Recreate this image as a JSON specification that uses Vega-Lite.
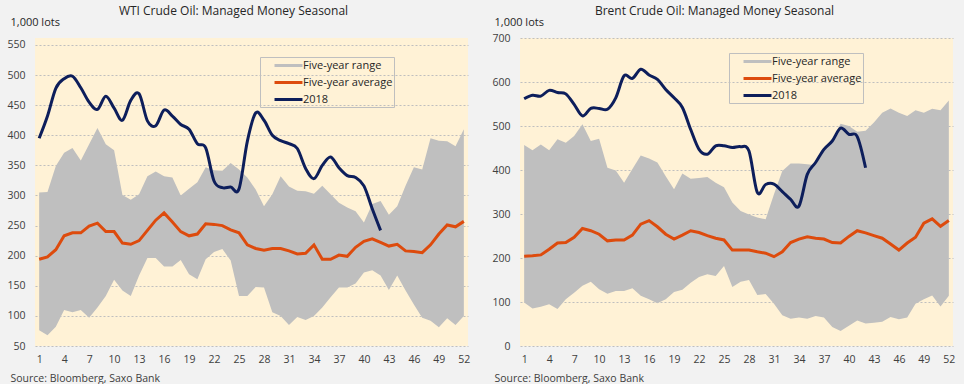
{
  "$schema": "https://vega.github.io/schema/vega-lite/v6.json",
  "background": "#F2F2F2",
  "padding": {"left": 6, "top": 5, "right": 10, "bottom": 2},
  "spacing": 21,
  "config": {
    "font": "Open Sans",
    "view": {"fill": "#FFF2D6", "stroke": null},
    "axis": {"labelColor": "#404040", "labelFontSize": 10.5, "ticks": false, "domain": false, "titleColor": "#262626", "titleFontWeight": "normal", "labelOverlap": false, "tickCount": 100, "format": "d"},
    "title": {"fontSize": 12, "fontWeight": "normal", "color": "#262626", "anchor": "middle", "frame": "group"},
    "legend": {"orient": "none", "title": null, "strokeColor": "#BFBFBF", "padding": 1, "symbolType": "M-2.33,0H2.33", "symbolSize": 144, "symbolStrokeWidth": 3, "symbolOffset": 20, "labelFontSize": 11, "labelColor": "#262626", "labelOffset": 7, "rowPadding": 3, "labelExpr": "datum.label + '     '"}
  },
  "resolve": {"scale": {"color": "independent"}, "legend": {"color": "independent"}},
  "datasets": {
    "wti": [
      {"w":1,"lo":76,"hi":305,"avg":194,"y18":395},
      {"w":2,"lo":68,"hi":306,"avg":198,"y18":432},
      {"w":3,"lo":82,"hi":349,"avg":210,"y18":478},
      {"w":4,"lo":110,"hi":371,"avg":233,"y18":494},
      {"w":5,"lo":106,"hi":379,"avg":238,"y18":498},
      {"w":6,"lo":110,"hi":358,"avg":238,"y18":479},
      {"w":7,"lo":97,"hi":385,"avg":249,"y18":455},
      {"w":8,"lo":114,"hi":412,"avg":254,"y18":443},
      {"w":9,"lo":133,"hi":385,"avg":240,"y18":465},
      {"w":10,"lo":160,"hi":375,"avg":240,"y18":445},
      {"w":11,"lo":142,"hi":301,"avg":221,"y18":425},
      {"w":12,"lo":133,"hi":293,"avg":219,"y18":458},
      {"w":13,"lo":167,"hi":302,"avg":225,"y18":469},
      {"w":14,"lo":196,"hi":332,"avg":242,"y18":424},
      {"w":15,"lo":196,"hi":340,"avg":259,"y18":416},
      {"w":16,"lo":182,"hi":332,"avg":271,"y18":442},
      {"w":17,"lo":182,"hi":330,"avg":256,"y18":432},
      {"w":18,"lo":193,"hi":300,"avg":240,"y18":418},
      {"w":19,"lo":169,"hi":311,"avg":233,"y18":410},
      {"w":20,"lo":161,"hi":322,"avg":236,"y18":386},
      {"w":21,"lo":194,"hi":347,"avg":253,"y18":379},
      {"w":22,"lo":206,"hi":342,"avg":252,"y18":324},
      {"w":23,"lo":211,"hi":341,"avg":250,"y18":313},
      {"w":24,"lo":192,"hi":354,"avg":243,"y18":314},
      {"w":25,"lo":133,"hi":343,"avg":238,"y18":311},
      {"w":26,"lo":133,"hi":330,"avg":218,"y18":390},
      {"w":27,"lo":148,"hi":310,"avg":212,"y18":437},
      {"w":28,"lo":147,"hi":282,"avg":209,"y18":425},
      {"w":29,"lo":106,"hi":302,"avg":212,"y18":400},
      {"w":30,"lo":100,"hi":332,"avg":212,"y18":391},
      {"w":31,"lo":85,"hi":315,"avg":208,"y18":386},
      {"w":32,"lo":98,"hi":308,"avg":203,"y18":378},
      {"w":33,"lo":93,"hi":307,"avg":204,"y18":345},
      {"w":34,"lo":100,"hi":303,"avg":218,"y18":328},
      {"w":35,"lo":114,"hi":316,"avg":194,"y18":350},
      {"w":36,"lo":131,"hi":302,"avg":194,"y18":364},
      {"w":37,"lo":147,"hi":288,"avg":201,"y18":346},
      {"w":38,"lo":147,"hi":280,"avg":199,"y18":333},
      {"w":39,"lo":154,"hi":274,"avg":214,"y18":330},
      {"w":40,"lo":172,"hi":255,"avg":224,"y18":316},
      {"w":41,"lo":176,"hi":286,"avg":228,"y18":278},
      {"w":42,"lo":167,"hi":291,"avg":222,"y18":242},
      {"w":43,"lo":143,"hi":268,"avg":216,"y18":null},
      {"w":44,"lo":167,"hi":282,"avg":219,"y18":null},
      {"w":45,"lo":142,"hi":316,"avg":208,"y18":null},
      {"w":46,"lo":119,"hi":347,"avg":207,"y18":null},
      {"w":47,"lo":97,"hi":343,"avg":205,"y18":null},
      {"w":48,"lo":92,"hi":395,"avg":218,"y18":null},
      {"w":49,"lo":81,"hi":391,"avg":236,"y18":null},
      {"w":50,"lo":96,"hi":390,"avg":251,"y18":null},
      {"w":51,"lo":85,"hi":382,"avg":248,"y18":null},
      {"w":52,"lo":100,"hi":410,"avg":257,"y18":null}
    ],
    "brent": [
      {"w":1,"lo":99,"hi":457,"avg":204,"y18":562},
      {"w":2,"lo":85,"hi":445,"avg":205,"y18":570},
      {"w":3,"lo":89,"hi":458,"avg":207,"y18":568},
      {"w":4,"lo":95,"hi":445,"avg":220,"y18":581},
      {"w":5,"lo":84,"hi":470,"avg":234,"y18":576},
      {"w":6,"lo":106,"hi":462,"avg":235,"y18":573},
      {"w":7,"lo":121,"hi":477,"avg":247,"y18":549},
      {"w":8,"lo":137,"hi":504,"avg":267,"y18":523},
      {"w":9,"lo":146,"hi":466,"avg":262,"y18":540},
      {"w":10,"lo":129,"hi":471,"avg":254,"y18":540},
      {"w":11,"lo":119,"hi":405,"avg":239,"y18":538},
      {"w":12,"lo":125,"hi":399,"avg":241,"y18":564},
      {"w":13,"lo":125,"hi":371,"avg":241,"y18":614},
      {"w":14,"lo":131,"hi":402,"avg":252,"y18":608},
      {"w":15,"lo":114,"hi":433,"avg":277,"y18":629},
      {"w":16,"lo":106,"hi":426,"avg":285,"y18":616},
      {"w":17,"lo":97,"hi":417,"avg":271,"y18":606},
      {"w":18,"lo":106,"hi":386,"avg":254,"y18":583},
      {"w":19,"lo":123,"hi":356,"avg":243,"y18":564},
      {"w":20,"lo":128,"hi":392,"avg":252,"y18":542},
      {"w":21,"lo":144,"hi":380,"avg":262,"y18":492},
      {"w":22,"lo":157,"hi":382,"avg":258,"y18":447},
      {"w":23,"lo":163,"hi":384,"avg":251,"y18":436},
      {"w":24,"lo":159,"hi":371,"avg":245,"y18":455},
      {"w":25,"lo":182,"hi":361,"avg":241,"y18":455},
      {"w":26,"lo":134,"hi":326,"avg":218,"y18":451},
      {"w":27,"lo":146,"hi":307,"avg":218,"y18":453},
      {"w":28,"lo":150,"hi":299,"avg":218,"y18":443},
      {"w":29,"lo":116,"hi":292,"avg":214,"y18":349},
      {"w":30,"lo":118,"hi":288,"avg":211,"y18":367},
      {"w":31,"lo":96,"hi":345,"avg":203,"y18":368},
      {"w":32,"lo":70,"hi":398,"avg":214,"y18":351},
      {"w":33,"lo":62,"hi":415,"avg":235,"y18":333},
      {"w":34,"lo":65,"hi":415,"avg":243,"y18":318},
      {"w":35,"lo":62,"hi":413,"avg":248,"y18":390},
      {"w":36,"lo":68,"hi":411,"avg":245,"y18":417},
      {"w":37,"lo":65,"hi":445,"avg":243,"y18":447},
      {"w":38,"lo":43,"hi":468,"avg":235,"y18":466},
      {"w":39,"lo":34,"hi":505,"avg":234,"y18":495},
      {"w":40,"lo":46,"hi":500,"avg":249,"y18":481},
      {"w":41,"lo":58,"hi":487,"avg":262,"y18":476},
      {"w":42,"lo":51,"hi":489,"avg":257,"y18":405},
      {"w":43,"lo":53,"hi":508,"avg":251,"y18":null},
      {"w":44,"lo":55,"hi":530,"avg":245,"y18":null},
      {"w":45,"lo":66,"hi":540,"avg":232,"y18":null},
      {"w":46,"lo":61,"hi":530,"avg":218,"y18":null},
      {"w":47,"lo":65,"hi":523,"avg":234,"y18":null},
      {"w":48,"lo":96,"hi":536,"avg":247,"y18":null},
      {"w":49,"lo":106,"hi":530,"avg":279,"y18":null},
      {"w":50,"lo":115,"hi":539,"avg":289,"y18":null},
      {"w":51,"lo":90,"hi":536,"avg":272,"y18":null},
      {"w":52,"lo":114,"hi":558,"avg":285,"y18":null}
    ]
  },
  "hconcat": [
    {
      "width": 433,
      "height": 308,
      "title": {"text": "WTI Crude Oil: Managed Money Seasonal", "offset": -2, "dx": -18},
      "data": {"name": "wti"},
      "encoding": {
        "x": {"field": "w", "type": "quantitative", "scale": {"domain": [0.5, 52.5], "nice": false, "zero": false},
          "axis": {"values": [1,4,7,10,13,16,19,22,25,28,31,34,37,40,43,46,49,52], "grid": false, "labelPadding": 8, "labelFlush": false,
            "title": "Source: Bloomberg, Saxo Bank", "titleX": -25, "titleY": 32, "titleAlign": "left", "titleBaseline": "middle", "titleFontSize": 10.5, "titleColor": "#404040"}}
      },
      "layer": [
        {
          "mark": {"type": "area", "color": "#BFBFBF", "opacity": 1},
          "encoding": {
            "y": {"field": "lo", "type": "quantitative", "scale": {"domain": [50, 561.6], "nice": false, "zero": false},
              "axis": {"values": [50,100,150,200,250,300,350,400,450,500,550], "grid": true, "gridColor": "#BFBFBF", "gridDash": [2, 2], "labelPadding": 10,
                "title": "1,000 lots", "titleAngle": 0, "titleX": -25, "titleY": -16, "titleAlign": "left", "titleBaseline": "middle", "titleFontSize": 11}},
            "y2": {"field": "hi"},
            "color": {"datum": "Five-year range", "type": "nominal",
              "scale": {"domain": ["Five-year range", "Five-year average", "2018"], "range": ["#BFBFBF", "#DD4B0D", "#0D1E5B"]},
              "legend": {"legendX": 225, "legendY": 19,
                "encode": {
                  "legend": {"update": {"strokeWidth": {"value": 2}}},
                  "symbols": {"update": {
                    "stroke": {"signal": "datum.value === 'Five-year range' ? '#BFBFBF' : datum.value === '2018' ? '#0D1E5B' : '#DD4B0D'"},
                    "strokeWidth": {"signal": "datum.value === 'Five-year range' ? 6 : 3"},
                    "fill": {"value": "transparent"},
                    "opacity": {"value": 1}
                  }}
                }}}
          }
        },
        {
          "mark": {"type": "line", "strokeWidth": 3},
          "encoding": {
            "y": {"field": "avg", "type": "quantitative"},
            "color": {"datum": "Five-year average", "type": "nominal"}
          }
        },
        {
          "mark": {"type": "line", "strokeWidth": 3, "interpolate": "cardinal"},
          "transform": [{"filter": "datum.y18 != null"}],
          "encoding": {
            "y": {"field": "y18", "type": "quantitative"},
            "color": {"datum": "2018", "type": "nominal"}
          }
        }
      ]
    },
    {
      "width": 433,
      "height": 308,
      "title": {"text": "Brent Crude Oil: Managed Money Seasonal", "offset": -2, "dx": -22},
      "data": {"name": "brent"},
      "encoding": {
        "x": {"field": "w", "type": "quantitative", "scale": {"domain": [0.5, 52.5], "nice": false, "zero": false},
          "axis": {"values": [1,4,7,10,13,16,19,22,25,28,31,34,37,40,43,46,49,52], "grid": false, "labelPadding": 8, "labelFlush": false,
            "title": "Source: Bloomberg, Saxo Bank", "titleX": -26, "titleY": 32, "titleAlign": "left", "titleBaseline": "middle", "titleFontSize": 10.5, "titleColor": "#404040"}}
      },
      "layer": [
        {
          "mark": {"type": "area", "color": "#BFBFBF", "opacity": 1},
          "encoding": {
            "y": {"field": "lo", "type": "quantitative", "scale": {"domain": [0, 700], "nice": false, "zero": false},
              "axis": {"values": [0,100,200,300,400,500,600,700], "grid": true, "gridColor": "#BFBFBF", "gridDash": [2, 2], "labelPadding": 10,
                "title": "1,000 lots", "titleAngle": 0, "titleX": -26, "titleY": -16, "titleAlign": "left", "titleBaseline": "middle", "titleFontSize": 11}},
            "y2": {"field": "hi"},
            "color": {"datum": "Five-year range", "type": "nominal",
              "scale": {"domain": ["Five-year range", "Five-year average", "2018"], "range": ["#BFBFBF", "#DD4B0D", "#0D1E5B"]},
              "legend": {"legendX": 209, "legendY": 15,
                "encode": {
                  "legend": {"update": {"strokeWidth": {"value": 2}}},
                  "symbols": {"update": {
                    "stroke": {"signal": "datum.value === 'Five-year range' ? '#BFBFBF' : datum.value === '2018' ? '#0D1E5B' : '#DD4B0D'"},
                    "strokeWidth": {"signal": "datum.value === 'Five-year range' ? 6 : 3"},
                    "fill": {"value": "transparent"},
                    "opacity": {"value": 1}
                  }}
                }}}
          }
        },
        {
          "mark": {"type": "line", "strokeWidth": 3},
          "encoding": {
            "y": {"field": "avg", "type": "quantitative"},
            "color": {"datum": "Five-year average", "type": "nominal"}
          }
        },
        {
          "mark": {"type": "line", "strokeWidth": 3, "interpolate": "cardinal"},
          "transform": [{"filter": "datum.y18 != null"}],
          "encoding": {
            "y": {"field": "y18", "type": "quantitative"},
            "color": {"datum": "2018", "type": "nominal"}
          }
        }
      ]
    }
  ]
}
